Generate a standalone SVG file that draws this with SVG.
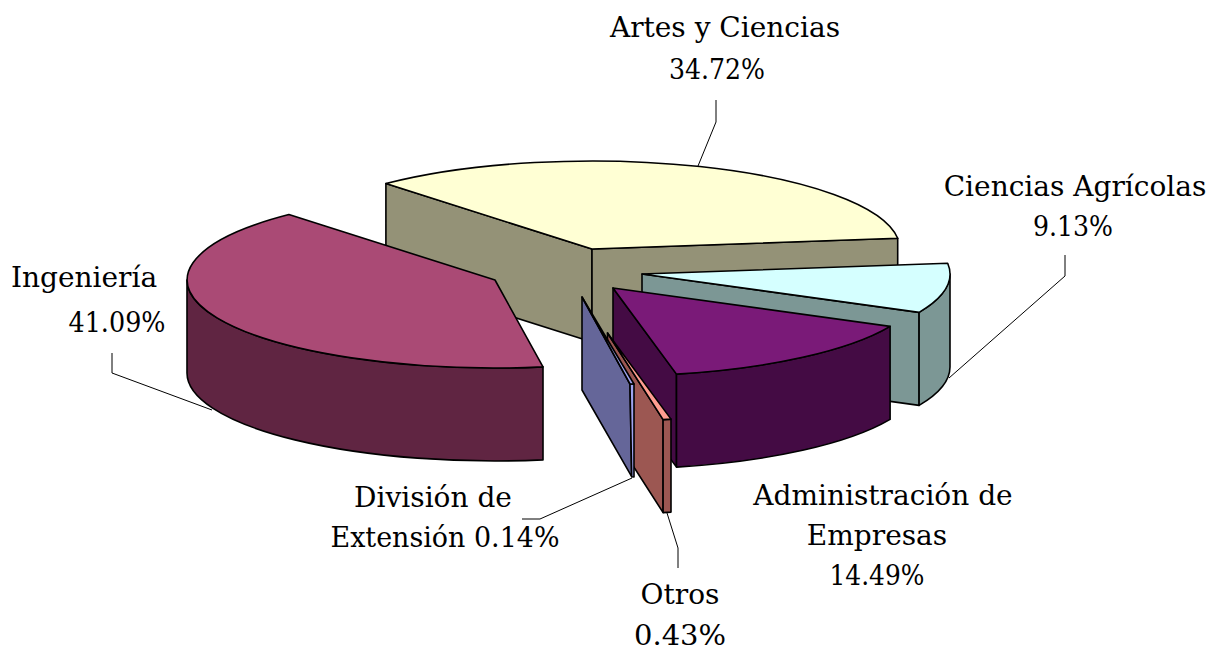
<svg xmlns="http://www.w3.org/2000/svg" width="1211" height="651" viewBox="0 0 1211 651">
<style>
.o{stroke:#000;stroke-width:1.6;stroke-linejoin:round}
.lbl{font-family:"DejaVu Serif","Liberation Serif",serif;font-size:28px;fill:#000;text-anchor:middle}
.ld{fill:none;stroke:#000;stroke-width:1}
</style>
<rect width="1211" height="651" fill="#fff"/>
<g id="artes">
<path class="o" fill="#949277" d="M385.9,183.6 L592,249 L592,342 L385.9,276.6 Z"/>
<path class="o" fill="#949277" d="M592,249 L897.7,238.3 L897.7,331.3 L592,342 Z"/>
<path class="o" fill="#FFFFD4" d="M592,249 L385.9,183.6 A308 88 0 0 1 897.7,238.3 Z"/>
</g>
<g id="agricolas">
<path class="o" fill="#7C9795" d="M642,274 L919.1,312.4 L919.1,405.4 L642,367 Z"/>
<path class="o" fill="#7C9795" d="M950,274 A308 88 0 0 1 919.1,312.4 L919.1,405.4 A308 88 0 0 0 950,367 Z"/>
<path class="o" fill="#D5FFFF" d="M642,274 L947.7,263.3 A308 88 0 0 1 919.1,312.4 Z"/>
</g>
<g id="ingenieria">
<path class="o" fill="#602542" d="M543,366.9 A308 88 0 0 1 187,280 L187,373 A308 88 0 0 0 543,459.9 Z"/>
<path class="o" fill="#AA4A75" d="M495,280 L543,366.9 A308 88 0 0 1 288.9,214.6 Z"/>
</g>
<g id="administracion">
<path class="o" fill="#440B44" d="M613,288 L676.5,374.1 L676.5,467.1 L613,381 Z"/>
<path class="o" fill="#440B44" d="M890.1,326.4 A308 88 0 0 1 676.5,374.1 L676.5,467.1 A308 88 0 0 0 890.1,419.4 Z"/>
<path class="o" fill="#7A1A78" d="M613,288 L890.1,326.4 A308 88 0 0 1 676.5,374.1 Z"/>
</g>
<g id="otros">
<path class="o" fill="#9C5752" d="M607.5,333 L663.1,419.6 L663.1,512.6 L607.5,426 Z"/>
<path class="o" fill="#9C5752" d="M671,419.1 A308 88 0 0 1 663.1,419.6 L663.1,512.6 A308 88 0 0 0 671,512.1 Z"/>
<path class="o" fill="#FF9D90" d="M607.5,333 L671,419.1 A308 88 0 0 1 663.1,419.6 Z"/>
</g>
<g id="division">
<path class="o" fill="#656699" d="M582,297 L630,384 L631.7,476.7 L582,390 Z"/>
<path class="o" fill="#9FA4F0" d="M630,384 L634,384 L634,477 L631.7,476.7 Z"/>
<path class="o" fill="#9FA4F0" d="M582,297 L634,384 L630,384 Z"/>
</g>
<g id="connectors">
<path class="ld" d="M716,100 L716,122 L698,166"/>
<path class="ld" d="M1065,255 L1065,276 L949,378"/>
<path class="ld" d="M112,353 L112,373 L212,410"/>
<path class="ld" d="M522,519 L540,519 L632,478"/>
<path class="ld" d="M667,513 L678,548 L678,568"/>
</g>
<g id="label-artes"><text class="lbl" x="725" y="37">Artes y Ciencias</text><text class="lbl" x="717" y="79" textLength="96" lengthAdjust="spacingAndGlyphs">34.72%</text></g>
<g id="label-agricolas"><text class="lbl" x="1075" y="196">Ciencias Agrícolas</text><text class="lbl" x="1073" y="236" textLength="80" lengthAdjust="spacingAndGlyphs">9.13%</text></g>
<g id="label-ingenieria"><text class="lbl" x="84" y="287">Ingeniería</text><text class="lbl" x="117" y="332" textLength="97" lengthAdjust="spacingAndGlyphs">41.09%</text></g>
<g id="label-division"><text class="lbl" x="433" y="507">División de</text><text class="lbl" x="445" y="547" textLength="229" lengthAdjust="spacingAndGlyphs">Extensión 0.14%</text></g>
<g id="label-administracion"><text class="lbl" x="883" y="505">Administración de</text><text class="lbl" x="877" y="545">Empresas</text><text class="lbl" x="877" y="585" textLength="95" lengthAdjust="spacingAndGlyphs">14.49%</text></g>
<g id="label-otros"><text class="lbl" x="680" y="604">Otros</text><text class="lbl" x="680" y="645" textLength="92" lengthAdjust="spacingAndGlyphs">0.43%</text></g>
</svg>
